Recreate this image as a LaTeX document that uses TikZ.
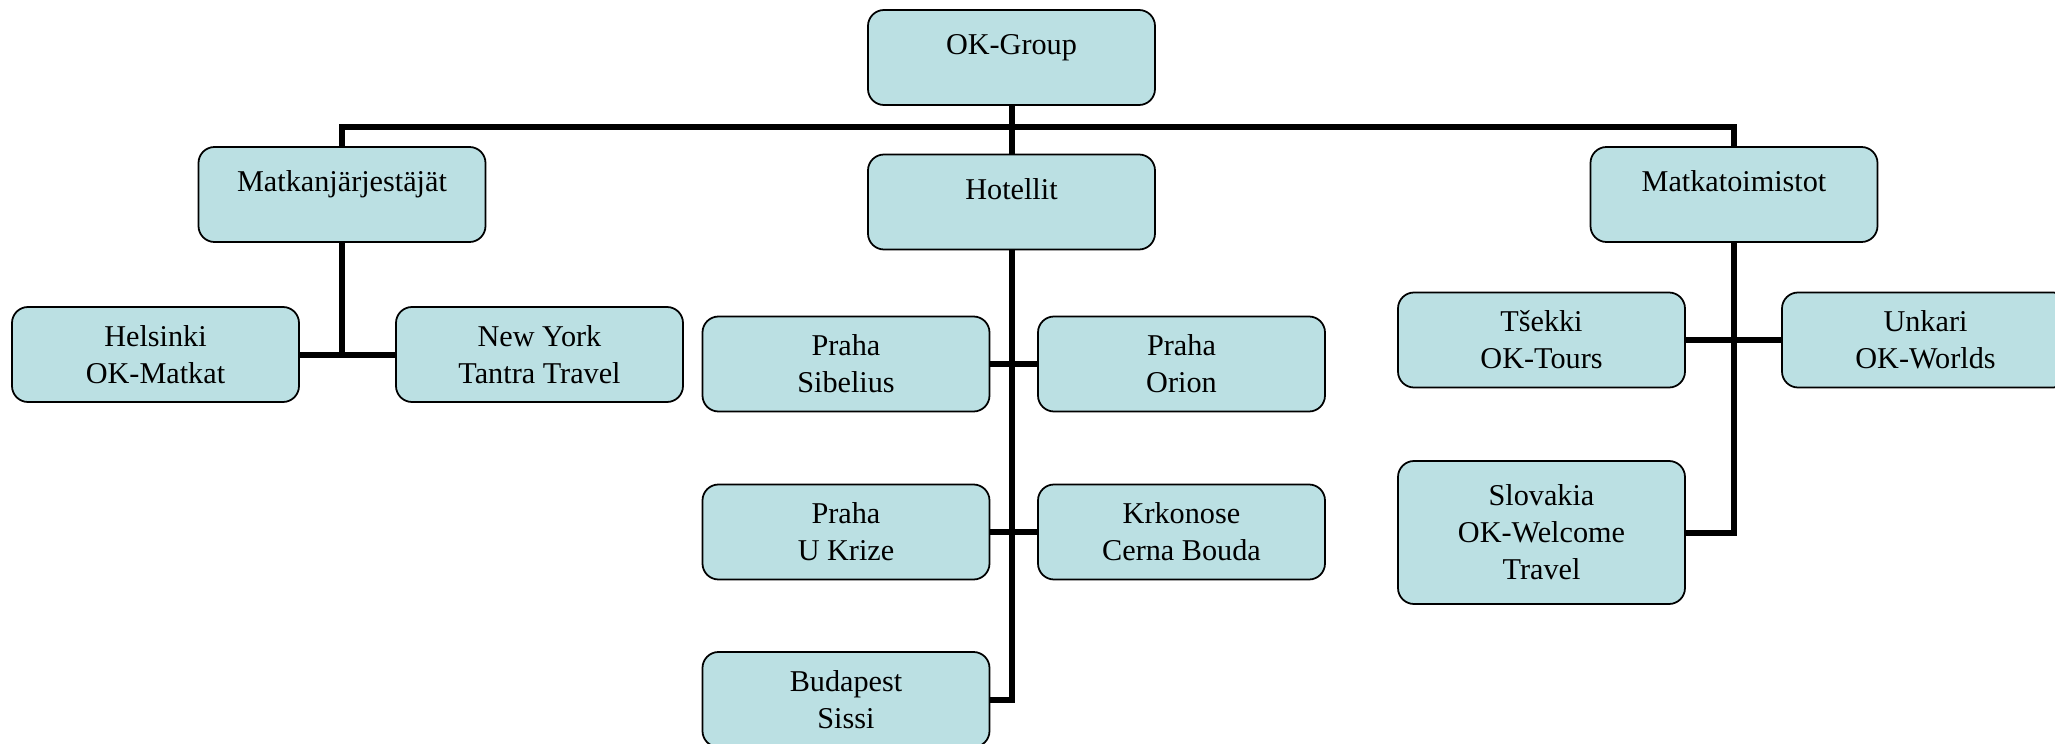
\documentclass[tikz,border=0pt]{standalone}
\usepackage{fontspec}
\setmainfont{Liberation Serif}
\usepackage{tikz}

\definecolor{boxblue}{RGB}{187,224,227}

\tikzset{
    orgbox/.style={draw=black, line width=0.5pt, fill=boxblue, rounded corners=1.6mm,
        minimum width=28.7mm, minimum height=9.5mm, align=center, inner sep=1pt,
        font=\fontsize{8.6}{10.5}\selectfont},
    topbox/.style={orgbox, text depth=7.5pt},
    link/.style={line width=0.6mm}
}

\begin{document}
\begin{tikzpicture}[x=0.1mm, y=-0.1mm]

\useasboundingbox (0,0) rectangle (2055,744);

%top level
\node[topbox] (okgroup) at (1011.5,57.5) {OK-Group};
\node[topbox] (matkan) at (342,194.5) {Matkanjärjestäjät};
\node[topbox] (hotellit) at (1011.5,202) {Hotellit};
\node[topbox] (matkat) at (1734,194.5) {Matkatoimistot};

%tour operators
\node[orgbox] (helsinki) at (155.5,354.5) {Helsinki\\OK-Matkat};
\node[orgbox] (newyork) at (539.5,354.5) {New York\\Tantra Travel};

%hotels
\node[orgbox] (sibelius) at (846,364) {Praha\\Sibelius};
\node[orgbox] (orion) at (1181.5,364) {Praha\\Orion};
\node[orgbox] (ukrize) at (846,532) {Praha\\U Krize};
\node[orgbox] (krkonose) at (1181.5,532) {Krkonose\\Cerna Bouda};
\node[orgbox] (budapest) at (846,699.5) {Budapest\\Sissi};

%travel agencies
\node[orgbox] (tsekki) at (1541.5,340) {Tšekki\\OK-Tours};
\node[orgbox] (unkari) at (1925.5,340) {Unkari\\OK-Worlds};
\node[orgbox, minimum height=14.3mm] (slovakia) at (1541.5,532.5) {Slovakia\\OK-Welcome\\Travel};

%links
\coordinate (bar) at (1011.5,127);
\draw[link] (okgroup.south) -- (hotellit.north);
\draw[link] (matkan.north) |- (bar) -| (matkat.north);

\draw[link] (matkan.south) -- (matkan.south |- helsinki.east);
\draw[link] (helsinki.east) -- (newyork.west);

\draw[link] (hotellit.south) |- (budapest.east);
\draw[link] (sibelius.east) -- (orion.west);
\draw[link] (ukrize.east) -- (krkonose.west);

\draw[link] (matkat.south) |- (slovakia.east);
\draw[link] (tsekki.east) -- (unkari.west);

\end{tikzpicture}
\end{document}
